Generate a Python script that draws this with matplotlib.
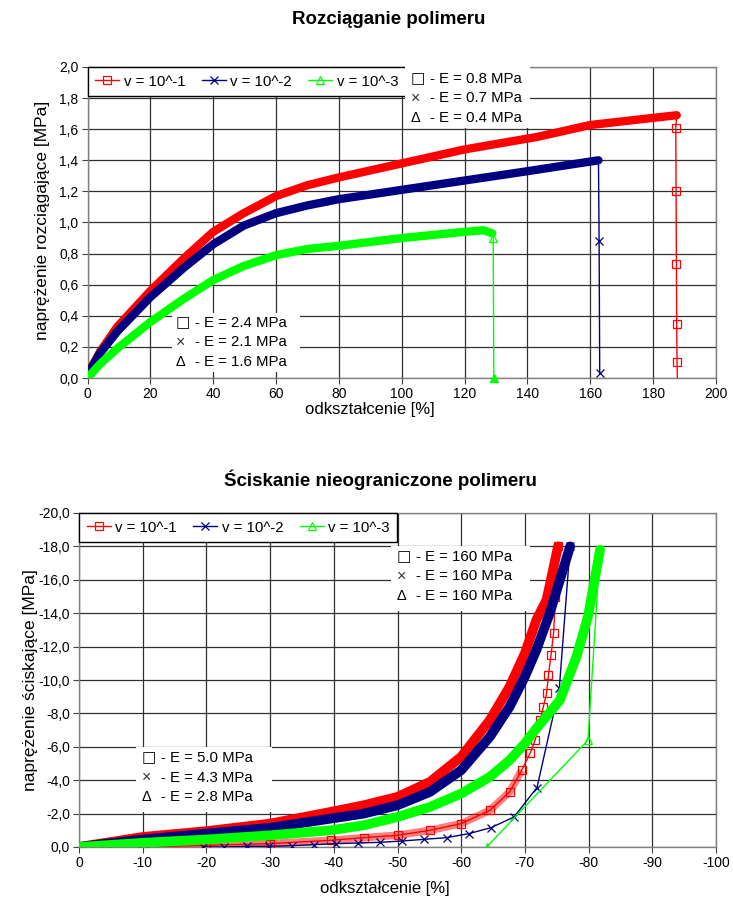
import matplotlib
matplotlib.use('Agg')
import matplotlib.pyplot as plt
from matplotlib.lines import Line2D
from matplotlib.patches import Rectangle
from matplotlib.ticker import FuncFormatter, MultipleLocator

plt.rcParams['font.family'] = ['Liberation Sans', 'DejaVu Sans']
plt.rcParams['axes.unicode_minus'] = False

# ---------------- data: tension (Rozciąganie) ----------------
t_red_x = [0, 4, 9.5, 20, 30.7, 40, 49.7, 60, 70, 80, 100, 120, 143, 160, 187.5]
t_red_y = [0.02, 0.17, 0.33, 0.56, 0.77, 0.94, 1.06, 1.17, 1.24, 1.29, 1.38, 1.47, 1.55, 1.627, 1.69]
t_red_tail_x = [187.5, 187.2, 187.3, 187.4, 187.5, 187.6, 187.7]
t_red_tail_y = [1.69, 1.61, 1.20, 0.73, 0.35, 0.105, 0.0]

t_blue_x = [0, 4, 9.5, 20, 30.7, 40, 49.7, 60, 70, 80, 100, 120, 140, 162.6]
t_blue_y = [0.02, 0.16, 0.30, 0.52, 0.71, 0.86, 0.98, 1.06, 1.11, 1.15, 1.21, 1.27, 1.33, 1.40]
t_blue_tail_x = [162.6, 162.8, 163.0]
t_blue_tail_y = [1.40, 0.88, 0.03]

t_green_x = [0, 4, 9.5, 20, 30.7, 40, 49.7, 60, 70, 80, 100, 105, 120, 126, 128.8]
t_green_y = [0.0, 0.09, 0.19, 0.36, 0.51, 0.63, 0.72, 0.79, 0.83, 0.85, 0.90, 0.91, 0.94, 0.95, 0.93]
t_green_tail_x = [128.8, 129.1, 129.3]
t_green_tail_y = [0.93, 0.90, 0.0]

# ---------------- data: compression (Ściskanie) ----------------
c_red_x = [0, -10, -20, -30, -39.5, -44.7, -50, -55.1, -60, -64.5, -67.6, -70, -71.8, -73.4, -75.2]
c_red_y = [0, -0.6, -0.95, -1.4, -2.1, -2.5, -3.0, -3.9, -5.4, -7.6, -9.6, -11.6, -13.6, -14.8, -18.0]
c_red_tail_x = [-75.2, -74.8, -74.5, -74.1, -73.7, -73.4, -72.9, -72.4, -71.6, -70.8, -69.5,
                -67.6, -64.5, -60, -55.1, -50, -44.7, -39.5, -30, -20, -10]
c_red_tail_y = [-18.0, -15.0, -12.8, -11.5, -10.3, -9.2, -8.4, -7.6, -6.4, -5.6, -4.6,
                -3.3, -2.2, -1.4, -1.0, -0.7, -0.56, -0.4, -0.2, -0.1, 0.0]

c_blue_x = [0, -10, -20, -30, -39.5, -44.7, -50, -55.1, -60, -64.5, -67.6, -70, -71.8, -73.9, -75.5, -77.1]
c_blue_y = [0, -0.45, -0.8, -1.15, -1.7, -2.0, -2.5, -3.3, -4.6, -6.6, -8.4, -10.2, -11.8, -14.0, -16.0, -18.0]
c_blue_tail_x = [-77.1, -75.4, -71.9, -68.3, -64.7, -61.2, -57.7, -54.2, -50.7, -47.2, -43.8,
                 -40.3, -36.9, -33.4, -29.9, -26.3, -22.8, -19.5]
c_blue_tail_y = [-18.0, -9.5, -3.56, -1.8, -1.16, -0.8, -0.56, -0.46, -0.36, -0.28, -0.24,
                 -0.2, -0.14, -0.08, -0.04, -0.04, 0.0, 0.0]

c_green_x = [0, -10, -20, -30, -39.5, -44.7, -50, -55.1, -60, -64.5, -67.6, -70, -71.8, -75.5, -78.1, -79.9, -81.8]
c_green_y = [0, -0.25, -0.45, -0.7, -1.0, -1.3, -1.8, -2.4, -3.2, -4.2, -5.2, -6.2, -7.1, -8.8, -11.4, -13.8, -17.8]
c_green_tail_x = [-81.8, -79.9, -64.0]
c_green_tail_y = [-17.8, -6.4, 0.0]

series_labels = ['v = 10^-1', 'v = 10^-2', 'v = 10^-3']
tension_notes_high = ['- E = 0.8 MPa', '- E = 0.7 MPa', '- E = 0.4 MPa']
tension_notes_low = ['- E = 2.4 MPa', '- E = 2.1 MPa', '- E = 1.6 MPa']
comp_notes_high = ['- E = 160 MPa', '- E = 160 MPa', '- E = 160 MPa']
comp_notes_low = ['- E = 5.0 MPa', '- E = 4.3 MPa', '- E = 2.8 MPa']
note_symbols = ['\u25a1', '\u00d7', '\u0394']

RED = '#FF0000'
BLUE = '#000080'
GREEN = '#00FF00'

W, H = 733, 899
fig = plt.figure(figsize=(W / 100, H / 100), dpi=100)


def axes_px(left, top, right, bottom):
    return fig.add_axes([left / W, 1 - bottom / H, (right - left) / W, (bottom - top) / H])


def style_axes(ax):
    for s in ax.spines.values():
        s.set_color('#808080')
        s.set_linewidth(1.0)
    ax.grid(True, color='#303030', linewidth=0.9)
    ax.set_axisbelow(True)
    ax.tick_params(direction='out', length=4, width=0.8, color='#404040',
                   labelsize=10, pad=2.5)


def note(x_px, y_px, lines, box):
    bx0, by0, bx1, by1 = box
    fig.patches.append(Rectangle((bx0 / W, 1 - by1 / H), (bx1 - bx0) / W, (by1 - by0) / H,
                                 transform=fig.transFigure, facecolor='white',
                                 edgecolor='none', zorder=5))
    for i, (sym, txt) in enumerate(zip(note_symbols, lines)):
        yy = 1 - (y_px + i * 19.5) / H
        if i == 0:
            fig.text(x_px / W, yy, sym, fontsize=11, va='center', ha='left',
                     fontweight='bold', zorder=6, family=['DejaVu Sans'])
        else:
            fig.text(x_px / W, yy, sym, fontsize=11.5 if i == 1 else 10.5, va='center',
                     ha='left', zorder=6, color='#333333' if i == 1 else 'black')
        fig.text((x_px + 19) / W, yy, txt, fontsize=10.8, va='center', ha='left', zorder=6)


def legend(ax):
    handles = [
        Line2D([], [], color=RED, marker='s', mfc='none', ms=5.5, lw=1, mew=0.9),
        Line2D([], [], color=BLUE, marker='x', ms=6, lw=1, mew=0.9),
        Line2D([], [], color=GREEN, marker='^', mfc='none', ms=5.5, lw=1, mew=0.9),
    ]
    lg = ax.legend(handles, series_labels, loc='upper left', bbox_to_anchor=(0, 1),
                   borderaxespad=0, ncol=3, fontsize=10.8, frameon=True, fancybox=False,
                   edgecolor='black', framealpha=1, handlelength=1.6, handletextpad=0.3,
                   columnspacing=1.1, borderpad=0.5)
    lg.get_frame().set_linewidth(1.0)
    lg.set_zorder(10)


# ---------------- top chart ----------------
ax1 = axes_px(87.5, 67, 716, 378)
style_axes(ax1)
band = dict(lw=6, solid_capstyle='round', solid_joinstyle='round', zorder=3)
ax1.plot(t_red_tail_x, t_red_tail_y, color=RED, lw=1, marker='s', mfc='none', ms=5.5,
         mew=0.9, markevery=[1, 2, 3, 4, 5], zorder=3)
ax1.plot(t_blue_tail_x, t_blue_tail_y, color=BLUE, lw=1, marker='x', ms=6, mew=0.9,
         markevery=[1, 2], zorder=3)
ax1.plot(t_green_tail_x, t_green_tail_y, color=GREEN, lw=1, marker='^', mfc='none', ms=5.5,
         mew=0.9, markevery=[1], zorder=3)
ax1.plot(t_green_tail_x[-1:], t_green_tail_y[-1:], color=GREEN, marker='^', ms=6,
         ls='none', zorder=4, clip_on=False)
ax1.plot(t_red_x, t_red_y, color=RED, **band)
ax1.plot(t_blue_x, t_blue_y, color=BLUE, **band)
ax1.plot(t_green_x, t_green_y, color=GREEN, **band)
ax1.set_xlim(0, 200)
ax1.set_ylim(0, 2.0)
ax1.xaxis.set_major_locator(MultipleLocator(20))
ax1.yaxis.set_major_locator(MultipleLocator(0.2))
ax1.yaxis.set_major_formatter(FuncFormatter(lambda v, p: f'{v:.1f}'.replace('.', ',')))
ax1.xaxis.set_major_formatter(FuncFormatter(lambda v, p: f'{v:.0f}'))
legend(ax1)

fig.text(389 / W, 1 - 19 / H, 'Rozciąganie polimeru', fontsize=13.5, fontweight='bold',
         ha='center', va='center')
fig.text(370 / W, 1 - 409 / H, 'odkształcenie [%]', fontsize=12, ha='center', va='center')
fig.text(43 / W, 1 - 220 / H, 'naprężenie rozciągające [MPa]', fontsize=12.5, ha='center',
         va='center', rotation=90)

note(411, 79, tension_notes_high, (405, 64, 530, 128))
note(176, 323, tension_notes_low, (172, 313, 300, 372))

# ---------------- bottom chart ----------------
ax2 = axes_px(79, 513, 716, 847)
style_axes(ax2)
band2 = dict(lw=7, solid_capstyle='round', solid_joinstyle='round', zorder=3)
ax2.plot(c_red_tail_x[10:], c_red_tail_y[10:], color=RED, lw=5.5, alpha=0.5,
         solid_capstyle='butt', zorder=3)
ax2.plot(c_red_tail_x, c_red_tail_y, color=RED, lw=1, marker='s', mfc='none', ms=6,
         mew=0.9, zorder=3)
ax2.plot(c_blue_tail_x, c_blue_tail_y, color=BLUE, lw=1, marker='x', ms=6, mew=0.9, zorder=3)
ax2.plot(c_green_tail_x, c_green_tail_y, color=GREEN, lw=1, marker='^', mfc='none', ms=6,
         mew=0.9, markevery=[1, 2], zorder=3)
ax2.plot(c_red_x, c_red_y, color=RED, **band2)
ax2.plot(c_blue_x, c_blue_y, color=BLUE, **band2)
ax2.plot(c_green_x, c_green_y, color=GREEN, **band2)
ax2.set_xlim(0, -100)
ax2.set_ylim(0, -20)
ax2.xaxis.set_major_locator(MultipleLocator(10))
ax2.yaxis.set_major_locator(MultipleLocator(2))
ax2.yaxis.set_major_formatter(FuncFormatter(lambda v, p: f'{v:.1f}'.replace('.', ',')))
ax2.xaxis.set_major_formatter(FuncFormatter(lambda v, p: f'{v:.0f}'))
legend(ax2)

fig.text(380 / W, 1 - 480 / H, 'Ściskanie nieograniczone polimeru', fontsize=13.5,
         fontweight='bold', ha='center', va='center')
fig.text(385 / W, 1 - 888 / H, 'odkształcenie [%]', fontsize=12, ha='center', va='center')
fig.text(30 / W, 1 - 680 / H, 'naprężenie ściskające [MPa]', fontsize=12.5, ha='center',
         va='center', rotation=90)

note(397, 557, comp_notes_high, (391, 546, 530, 611))
note(142, 758, comp_notes_low, (136, 747, 272, 812))

fig.savefig('out.png', dpi=100, facecolor='white')
